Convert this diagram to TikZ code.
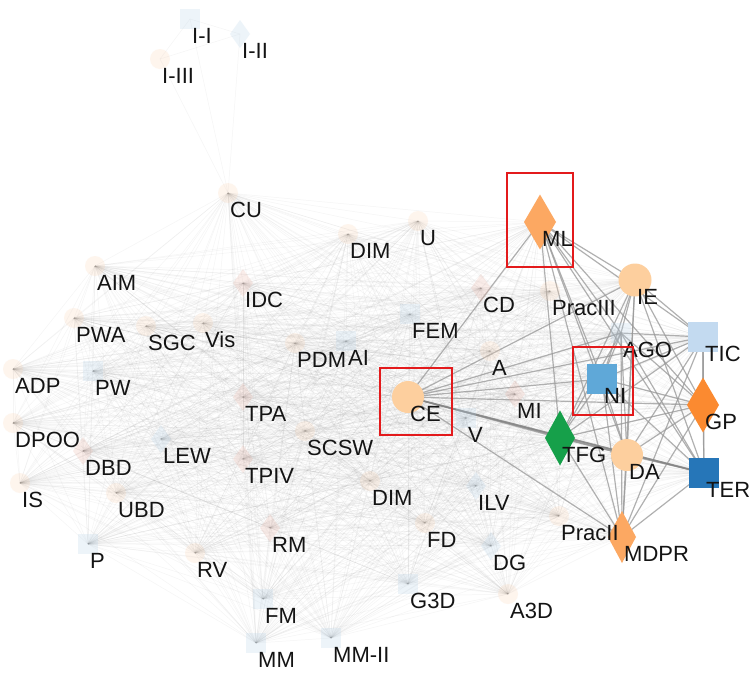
\documentclass[tikz,border=0pt]{standalone}
\usepackage{fontspec}
\setmainfont{Liberation Sans}
\usetikzlibrary{shapes.geometric}
\pgfdeclarelayer{paper}
\pgfdeclarelayer{edges}
\pgfdeclarelayer{labels}
\pgfsetlayers{paper,edges,main,labels}

\definecolor{peach}{HTML}{FDCF9E}
\definecolor{mlorange}{HTML}{FCA862}
\definecolor{gporange}{HTML}{FB8A30}
\definecolor{tfggreen}{HTML}{16A04A}
\definecolor{niblue}{HTML}{5FA8D8}
\definecolor{ticblue}{HTML}{C3DAF0}
\definecolor{terblue}{HTML}{2676B8}
\definecolor{boxred}{HTML}{E31A1C}
\definecolor{fpeach}{HTML}{FBD2B0}
\definecolor{fpink}{HTML}{EDB8AA}
\definecolor{fblue}{HTML}{B9D5EA}

\tikzset{
  nd/.style={inner sep=0pt, outer sep=0pt, draw=none},
  hcirc/.style={nd, circle, minimum size=33pt},
  hsq/.style={nd, rectangle, minimum size=30pt},
  hdia/.style={nd, diamond, minimum width=32pt, minimum height=55pt},
  fcirc/.style={nd, circle, minimum size=20pt, fill=fpeach, fill opacity=0.22},
  fsq/.style={nd, rectangle, minimum size=20pt, fill=fblue, fill opacity=0.25},
  fbdia/.style={nd, diamond, minimum width=20pt, minimum height=28pt, fill=fblue, fill opacity=0.25},
  fpdia/.style={nd, diamond, minimum width=20pt, minimum height=28pt, fill=fpink, fill opacity=0.25},
  lbl/.style={anchor=base west, inner sep=0pt, font=\fontsize{22}{22}\selectfont, text=black!92},
  faint/.style={draw=gray, line width=0.5pt, opacity=0.08},
  strong/.style={draw=black!40, line width=1.2pt, opacity=0.75},
  redbox/.style={draw=boxred, line width=2.6pt},
}

% node with its label set below and to the right of the centre;
% labels sit on their own layer above every shape
\newcommand\graphnode[4]{%
  \node[#1] (#2) at (#3) {};
  \begin{pgfonlayer}{labels}
    \node[lbl] (#2-t) at ([shift={(2,24)}]#2.center) {#4};
  \end{pgfonlayer}}

\begin{document}
\begin{tikzpicture}[x=1pt,y=-1pt]
\begin{pgfonlayer}{paper}
  \fill[white] (0,0) rectangle (749,673);
\end{pgfonlayer}
\useasboundingbox (0,0) rectangle (749,673);

% ---- isolated top group
\graphnode{fsq}{I-I}{190,19}{I-I}
\graphnode{fbdia}{I-II}{240,34}{I-II}
\graphnode{fcirc}{I-III}{160,59}{I-III}

% ---- faint nodes
\graphnode{fcirc}{CU}{228,193}{CU}
\graphnode{fcirc}{DIMa}{348,234}{DIM}
\graphnode{fcirc}{U}{418,221}{U}
\graphnode{fcirc}{AIM}{95,266}{AIM}
\graphnode{fpdia}{IDC}{243,283}{IDC}
\graphnode{fpdia}{CD}{481,288}{CD}
\graphnode{fcirc}{PWA}{74,318}{PWA}
\graphnode{fcirc}{SGC}{146,326}{SGC}
\graphnode{fcirc}{Vis}{203,323}{Vis}
\graphnode{fsq}{FEM}{410,314}{FEM}
\graphnode{fcirc}{PDM}{295,343}{PDM}
\graphnode{fsq}{AI}{346,341}{AI}
\graphnode{fcirc}{PracIII}{550,291}{PracIII}
\graphnode{fcirc}{A}{490,351}{A}
\graphnode{fsq}{AGO}{621,333}{AGO}
\graphnode{fcirc}{ADP}{13,369}{ADP}
\graphnode{fsq}{PW}{93,371}{PW}
\graphnode{fcirc}{DPOO}{13,423}{DPOO}
\graphnode{fpdia}{DBD}{83,451}{DBD}
\graphnode{fbdia}{LEW}{161,439}{LEW}
\graphnode{fpdia}{TPA}{243,397}{TPA}
\graphnode{fpdia}{TPIV}{243,459}{TPIV}
\graphnode{fcirc}{SCSW}{305,431}{SCSW}
\graphnode{fcirc}{IS}{20,483}{IS}
\graphnode{fcirc}{UBD}{116,493}{UBD}
\graphnode{fcirc}{DIMb}{370,481}{DIM}
\graphnode{fpdia}{MI}{515,394}{MI}
\graphnode{fsq}{V}{466,418}{V}
\graphnode{fbdia}{ILV}{476,486}{ILV}
\graphnode{fcirc}{FD}{425,523}{FD}
\graphnode{fbdia}{DG}{491,546}{DG}
\graphnode{fcirc}{PracII}{559,516}{PracII}
\graphnode{fcirc}{A3D}{508,594}{A3D}
\graphnode{fsq}{G3D}{408,584}{G3D}
\graphnode{fsq}{P}{88,544}{P}
\graphnode{fcirc}{RV}{195,553}{RV}
\graphnode{fpdia}{RM}{270,528}{RM}
\graphnode{fsq}{FM}{263,599}{FM}
\graphnode{fsq}{MM}{256,643}{MM}
\graphnode{fsq}{MM-II}{331,638}{MM-II}

% ---- highlighted nodes
\graphnode{hdia,fill=mlorange}{ML}{540,222}{ML}
\graphnode{hcirc,fill=peach}{IE}{635,280}{IE}
\graphnode{hsq,fill=ticblue}{TIC}{703,337}{TIC}
\graphnode{hsq,fill=niblue}{NI}{602,379}{NI}
\graphnode{hdia,fill=gporange}{GP}{703,405}{GP}
\graphnode{hdia,minimum width=30pt,fill=tfggreen}{TFG}{560,438}{TFG}
\graphnode{hcirc,minimum size=32pt,fill=peach}{DA}{627,455}{DA}
\graphnode{hsq,fill=terblue}{TER}{704,473}{TER}
\graphnode{hdia,minimum width=28pt,minimum height=52pt,fill=mlorange}{MDPR}{622,537}{MDPR}
\graphnode{hcirc,minimum size=32pt,fill=peach}{CE}{408,397}{CE}

% ---- connectors
\def\allnodes{CU,DIMa,U,AIM,IDC,CD,PWA,SGC,Vis,FEM,PDM,AI,PracIII,A,AGO,ADP,PW,DPOO,DBD,LEW,TPA,TPIV,SCSW,IS,UBD,DIMb,MI,V,ILV,FD,DG,PracII,A3D,G3D,P,RV,RM,FM,MM,MM-II,ML,IE,TIC,NI,GP,TFG,DA,TER,MDPR,CE}
\def\corenodes{ML,IE,AGO,TIC,NI,GP,TFG,DA,TER,MDPR,CE}
\begin{pgfonlayer}{edges}
  \foreach \a [count=\i] in \allnodes {
    \foreach \b [count=\j] in \allnodes {
      \ifnum\j>\i \draw[faint] (\a.center) -- (\b.center); \fi
    }
  }
  \foreach \a/\b in {I-I/I-II, I-I/I-III, I-II/I-III, I-I/CU, I-II/CU, I-III/CU}
    \draw[faint] (\a.center) -- (\b.center);
  \foreach \a [count=\i] in \corenodes {
    \foreach \b [count=\j] in \corenodes {
      \ifnum\j>\i \draw[strong] (\a.center) -- (\b.center); \fi
    }
  }
  \draw[strong, line width=1.8pt, draw=black!50] (CE.center) -- (TER.center);
\end{pgfonlayer}

% ---- highlight frames
\begin{pgfonlayer}{labels}
  \draw[redbox] (507,173) rectangle (573,267);
  \draw[redbox] (380,368) rectangle (452,435);
  \draw[redbox] (573,347) rectangle (633,415);
\end{pgfonlayer}
\end{tikzpicture}
\end{document}
